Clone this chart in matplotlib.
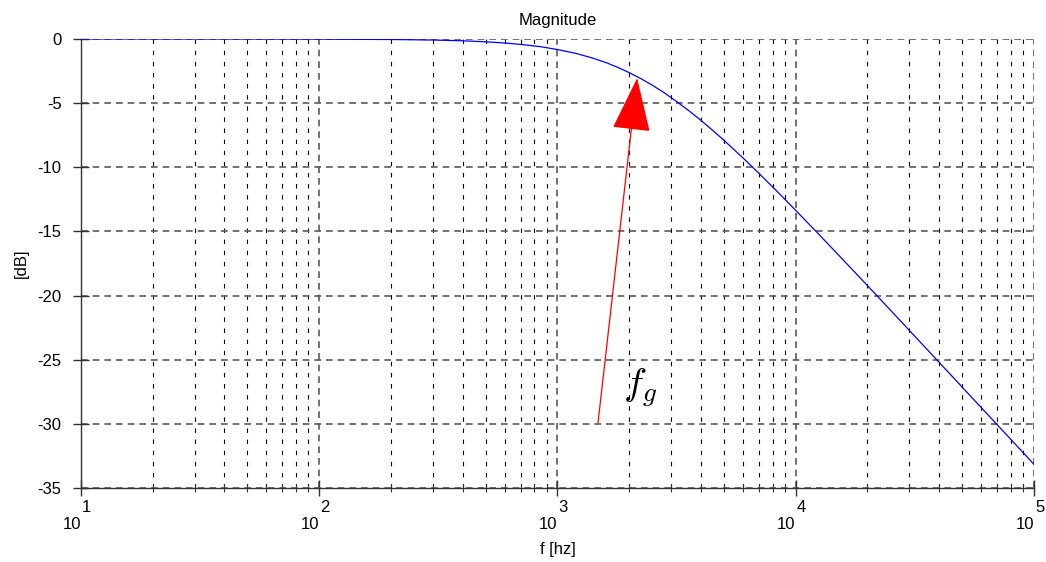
import matplotlib
matplotlib.use('Agg')
import matplotlib.pyplot as plt
from matplotlib import transforms
from matplotlib.ticker import LogLocator, NullFormatter

plt.rcParams['font.family'] = ['Liberation Sans', 'DejaVu Sans']
plt.rcParams['mathtext.fontset'] = 'cm'

# magnitude curve
freq = [10, 30, 100, 200, 300, 400, 500, 600, 700, 850, 1000, 1200, 1400,
        1600, 1800, 2000, 2250, 2500, 2800, 3200, 3600, 4000, 4500, 5000,
        6000, 7000, 8500, 10000, 12500, 15000, 20000, 30000, 50000, 70000,
        100000]
mag_db = [0.0, 0.0, -0.01, -0.04, -0.08, -0.14, -0.22, -0.31, -0.42, -0.60,
          -0.82, -1.13, -1.48, -1.84, -2.23, -2.62, -3.11, -3.60, -4.18,
          -4.94, -5.66, -6.34, -7.15, -7.90, -9.26, -10.46, -12.02, -13.36,
          -15.22, -16.77, -19.22, -22.72, -27.14, -30.06, -33.15]

yticks = [0, -5, -10, -15, -20, -25, -30, -35]
xdecades = [1, 2, 3, 4, 5]

# arrow to the cutoff point
arrow_tail = (1480, -29.9)
arrow_tip = (2160, -3.05)
label_pos = (2220, -27.2)

fig = plt.figure(figsize=(10.46, 5.62), dpi=100)
ax = fig.add_axes([0.0774, 0.1317, 0.9111, 0.7989])

ax.semilogx(freq, mag_db, color='blue', lw=0.9, zorder=3)
ax.set_xlim(10, 1e5)
ax.set_ylim(-35, 0)
ax.set_yticks(yticks)
ax.set_yticklabels([str(v) for v in yticks], fontsize=12)

ax.xaxis.set_major_locator(LogLocator(base=10, numticks=10))
ax.xaxis.set_minor_locator(LogLocator(base=10, subs=range(2, 10), numticks=20))
ax.xaxis.set_major_formatter(NullFormatter())
ax.xaxis.set_minor_formatter(NullFormatter())

ax.grid(True, which='major', color='#5a5a5a', ls=(0, (4, 3)), lw=1.2)
ax.grid(True, which='minor', axis='x', color='black', ls=(0, (4, 6)), lw=0.8)
ax.set_axisbelow(True)

for s in ['top', 'right']:
    ax.spines[s].set_visible(False)
for s in ['left', 'bottom']:
    ax.spines[s].set_color('#333333')
    ax.spines[s].set_linewidth(1.0)

ax.tick_params(which='major', direction='inout', length=12, width=1, color='#333333', pad=8)
ax.tick_params(which='minor', direction='inout', length=6, width=0.8, color='#333333')

# octave style 10^n tick labels
base = transforms.blended_transform_factory(ax.transData, ax.transAxes)
for n in xdecades:
    t10 = transforms.offset_copy(base, fig=fig, x=0, y=-29, units='dots')
    ax.text(10 ** n, 0, '10', transform=t10, ha='right', va='top', fontsize=12)
    texp = transforms.offset_copy(base, fig=fig, x=1, y=-12, units='dots')
    ax.text(10 ** n, 0, str(n), transform=texp, ha='left', va='top', fontsize=12)

ax.set_title('Magnitude', fontsize=12, pad=10)
ax.set_ylabel('[dB]', fontsize=12, labelpad=6)
ax.set_xlabel('f [hz]', fontsize=12, labelpad=25)

ax.annotate('', xy=arrow_tip, xytext=arrow_tail,
            arrowprops=dict(arrowstyle='-|>,head_length=3.5,head_width=1.25',
                            color='red', lw=0.9, shrinkA=0, shrinkB=0),
            zorder=4)
ax.text(label_pos[0], label_pos[1], '$f_g$', fontsize=28, ha='center', va='center')

fig.savefig('out.png', dpi=100)
